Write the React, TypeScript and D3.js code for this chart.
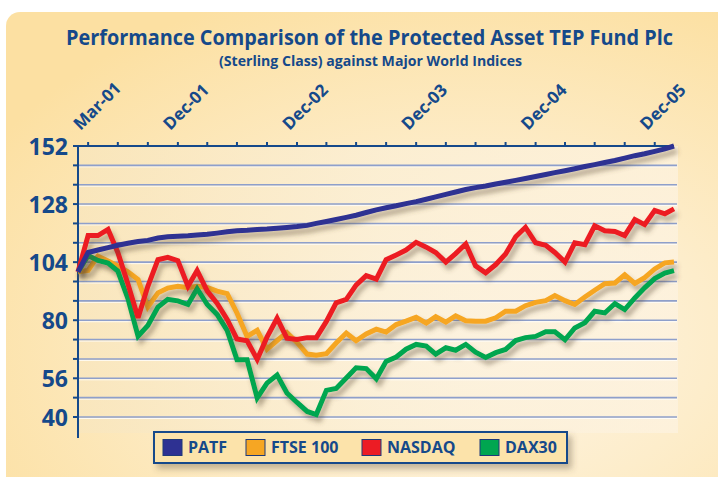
import React from 'react';
import * as d3 from 'd3';

// Performance of PATF vs world indices, rebased to 100 at Mar-01, monthly

const startMonth = 'Mar-01';
const monthCount = 61;

const patf = [
  100, 108, 109, 110, 111, 111.8, 112.5, 113, 114, 114.5,
  114.7, 114.9, 115.2, 115.5, 116, 116.6, 117, 117.2, 117.5, 117.7,
  118, 118.3, 118.7, 119.2, 120, 120.8, 121.6, 122.5, 123.4, 124.5,
  125.6, 126.5, 127.3, 128.2, 129, 130, 131, 132, 133, 134,
  134.8, 135.5, 136.3, 137, 137.8, 138.6, 139.4, 140.2, 141, 141.8,
  142.6, 143.5, 144.3, 145.2, 146, 147, 148, 148.8, 149.8, 150.8,
  152,
];

const ftse = [
  100, 100.6, 106.5, 104.5, 102.4, 100, 96.8, 85.5, 91.3, 93.3,
  94, 93.4, 94, 93.5, 92, 91, 83, 73.3, 75.8, 68,
  71.6, 74.9, 70.8, 66, 65.5, 66.2, 70.6, 74.7, 71.5, 74.3,
  76.3, 75.1, 78.2, 79.6, 81.2, 78.8, 81.5, 79.2, 81.8, 79.8,
  79.6, 79.6, 81, 83.7, 83.7, 86, 87.4, 88.1, 90.2, 88.1,
  86.5, 89.6, 92.4, 95.1, 95.4, 98.8, 95.2, 97.6, 101.2, 103.7,
  104.1,
];

const nasdaq = [
  100, 115, 115, 117.5, 108, 95, 81, 94, 105, 106,
  104.6, 94, 100.5, 92, 87, 80.3, 72.2, 71.5, 63.8, 73,
  80.8, 72.6, 72, 72.8, 72.8, 79.5, 87.2, 88.6, 94.5, 98.4,
  97, 105, 107, 109, 112.2, 110.2, 108, 104, 107.5, 111.5,
  102.5, 99.6, 103, 107.4, 114.5, 118.4, 112, 111, 108, 104,
  112, 111.2, 119, 117, 116.7, 115, 121.6, 119.5, 125.4, 124,
  126,
];

const dax = [
  100, 106.7, 104.7, 103.6, 100.3, 88.9, 73.4, 77.8, 85.4, 88.6,
  88, 86.5, 93, 86.5, 82.4, 75.8, 63.7, 63.7, 47.9, 54,
  57.3, 49.9, 46, 42.3, 41, 51, 51.8, 56.1, 60.3, 60,
  55.8, 63, 64.8, 68, 70, 69.3, 66, 68.6, 67.6, 70,
  66.8, 64.6, 66.6, 67.9, 71.6, 72.8, 73.3, 75.2, 75.2, 71.9,
  76.8, 79, 83.7, 83, 86.9, 84.4, 89.2, 93.4, 97.2, 99.5,
  100.5,
];

const seriesNames = ['PATF', 'FTSE 100', 'NASDAQ', 'DAX30'];
const seriesColors = ['#2E3192', '#F6A623', '#EC1C24', '#00A650'];

const xTickLabels = ['Mar-01', 'Dec-01', 'Dec-02', 'Dec-03', 'Dec-04', 'Dec-05'];
const yTickLabels = [152, 128, 104, 80, 56, 40];

const navy = '#15498A';

const App = () => {
  const width = 718;
  const height = 477;
  const margin = { top: 146, right: 44, bottom: 60, left: 78 };

  const parse = d3.timeParse('%b-%y');
  const start = parse(startMonth) as Date;
  const months = d3.range(monthCount).map(i => d3.timeMonth.offset(start, i));

  const x = d3
    .scaleTime()
    .domain([months[0], months[monthCount - 1]])
    .range([margin.left, width - margin.right]);

  const y = d3
    .scaleLinear()
    .domain([40, 152])
    .range([height - margin.bottom, margin.top]);

  const line = d3
    .line<number>()
    .x((_, i) => x(months[i]))
    .y(d => y(d));

  const gridValues = d3.range(40, 153, 8);
  const quarterTicks = x.ticks(d3.timeMonth.every(3) as d3.TimeInterval);
  const series = [ftse, dax, nasdaq, patf];
  const seriesColorOrder = [seriesColors[1], seriesColors[3], seriesColors[2], seriesColors[0]];

  const x0 = x.range()[0];
  const x1 = x.range()[1];
  const yTop = y(152);

  const legendX = 154;
  const legendY = 432;
  const legendItemX = [9, 92, 208, 326];

  return (
    <svg
      width={width}
      height={height}
      style={{ position: 'absolute', left: 0, top: 0, fontFamily: '"Open Sans", sans-serif' }}
    >
      <defs>
        <radialGradient id="bg" cx="0.62" cy="0.66" r="0.75">
          <stop offset="0" stopColor="#FEF6E8" />
          <stop offset="0.45" stopColor="#FDEDCB" />
          <stop offset="1" stopColor="#FCE0A2" />
        </radialGradient>
        <linearGradient id="plotbg" x1="0" y1="0" x2="1" y2="0">
          <stop offset="0" stopColor="#F8E6BF" />
          <stop offset="0.5" stopColor="#FBEFD6" />
          <stop offset="1" stopColor="#FDF3E2" />
        </linearGradient>
        <filter id="shadow" x="-10%" y="-20%" width="130%" height="150%">
          <feDropShadow dx="3" dy="5" stdDeviation="2.5" floodColor="#5a4a30" floodOpacity="0.45" />
        </filter>
        <filter id="boxshadow" x="-10%" y="-30%" width="130%" height="190%">
          <feDropShadow dx="4" dy="5" stdDeviation="3" floodColor="#5a4a30" floodOpacity="0.35" />
        </filter>
      </defs>

      <rect x={0} y={0} width={width} height={height} fill="#fff" />
      <rect x={6} y={12} width={width + 20} height={height + 20} rx={14} fill="url(#bg)" />

      {/* plot area */}
      <rect x={x0} y={yTop} width={x1 - x0 + 4} height={y(40) - yTop + 16} fill="url(#plotbg)" opacity={0.7} />

      {/* gridlines */}
      {gridValues.filter(v => v < 152).map(v => (
        <g key={v}>
          <line x1={x0} x2={x1 + 3} y1={y(v) + 1.5} y2={y(v) + 1.5} stroke="#ffffff" strokeWidth={1} opacity={0.8} />
          <line x1={x0} x2={x1 + 3} y1={y(v)} y2={y(v)} stroke="#8E9FCB" strokeWidth={1.6} />
        </g>
      ))}

      {/* left axis */}
      <line x1={x0} x2={x0} y1={yTop} y2={y(40) + 21} stroke={navy} strokeWidth={2} />
      {gridValues.map(v => (
        <line key={v} x1={x0 - 5} x2={x0} y1={y(v)} y2={y(v)} stroke={navy} strokeWidth={2} />
      ))}
      {yTickLabels.map(v => (
        <text
          key={v}
          x={68}
          y={y(v) + 8.5}
          textAnchor="end"
          fontSize={23}
          fontWeight={700}
          fill={navy}
        >
          {v}
        </text>
      ))}

      {/* top axis */}
      <line x1={x0} x2={x1} y1={yTop} y2={yTop} stroke={navy} strokeWidth={2} />
      {quarterTicks.map(d => (
        <line key={+d} x1={x(d)} x2={x(d)} y1={yTop - 4} y2={yTop} stroke={navy} strokeWidth={2} />
      ))}
      {xTickLabels.map(l => {
        const d = parse(l) as Date;
        const ax = x(d) + 2.5;
        const ay = 131;
        return (
          <text
            key={l}
            x={ax}
            y={ay}
            transform={`rotate(-45, ${ax}, ${ay})`}
            fontSize={17}
            fontWeight={700}
            fill={navy}
          >
            {l}
          </text>
        );
      })}

      {/* series */}
      {series.map((s, k) => (
        <path
          key={k}
          d={line(s) || ''}
          fill="none"
          stroke={seriesColorOrder[k]}
          strokeWidth={5}
          strokeLinejoin="miter"
          strokeMiterlimit={3}
          filter="url(#shadow)"
        />
      ))}

      {/* titles */}
      <text
        x={369.5}
        y={45}
        textAnchor="middle"
        fontSize={21}
        fontWeight={700}
        fill={navy}
        textLength={607}
        lengthAdjust="spacingAndGlyphs"
      >
        Performance Comparison of the Protected Asset TEP Fund Plc
      </text>
      <text
        x={370.5}
        y={66}
        textAnchor="middle"
        fontSize={14}
        fontWeight={700}
        fill={navy}
        textLength={303}
        lengthAdjust="spacingAndGlyphs"
      >
        (Sterling Class) against Major World Indices
      </text>

      {/* legend */}
      <g filter="url(#boxshadow)">
        <rect x={legendX} y={legendY} width={413} height={31} fill="#FCE3AA" stroke={navy} strokeWidth={2} />
      </g>
      {seriesNames.map((name, k) => (
        <g key={name} transform={`translate(${legendX + legendItemX[k]}, ${legendY + 7.5})`}>
          <rect x={0} y={0} width={19} height={16} fill={seriesColors[k]} stroke="#1E3A7A" strokeWidth={1} />
          <text x={25} y={13.5} fontSize={16} fontWeight={700} fill={navy}>
            {name}
          </text>
        </g>
      ))}
    </svg>
  );
};

export default App;
